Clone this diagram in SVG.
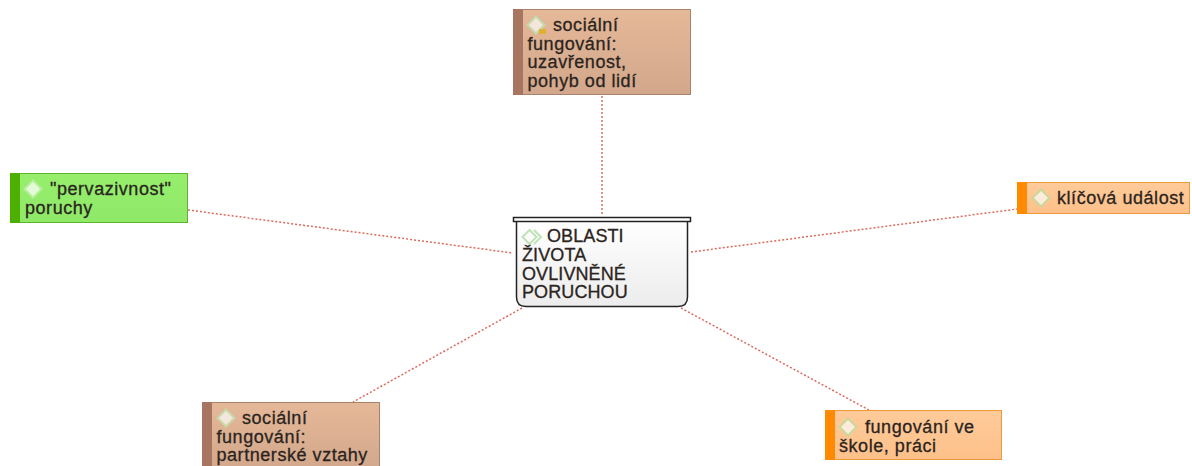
<svg xmlns="http://www.w3.org/2000/svg" width="1192" height="466" viewBox="0 0 1192 466">
<defs>
<linearGradient id="gb" x1="0" y1="0" x2="0" y2="1"><stop offset="0" stop-color="#e5b898"/><stop offset="1" stop-color="#d2a78b"/></linearGradient>
<linearGradient id="gg" x1="0" y1="0" x2="0" y2="1"><stop offset="0" stop-color="#96ee6c"/><stop offset="1" stop-color="#8fe868"/></linearGradient>
<linearGradient id="go" x1="0" y1="0" x2="0" y2="1"><stop offset="0" stop-color="#ffcb9a"/><stop offset="1" stop-color="#fdc08a"/></linearGradient>
<linearGradient id="gw" x1="0" y1="0" x2="0" y2="1"><stop offset="0" stop-color="#ffffff"/><stop offset="1" stop-color="#ececec"/></linearGradient>
<path id="dia" d="M0 -8.500 L8.500 0 L0 8.500 L-8.500 0 Z"/>
</defs>
<style>
text{font-family:"Liberation Sans",Arial,sans-serif;font-size:18px;letter-spacing:.55px;fill:#2a2420;stroke:#2a2420;stroke-width:.3px}
.u{letter-spacing:.1px}
.c{fill:none;stroke:#dd6a5c;stroke-width:1.5;stroke-dasharray:2 2}
.d{stroke-width:2}
.db{fill:#f3e6dc;stroke:#c5d8a8}
.dg{fill:#e4fbd8;stroke:#b8ee9c}
.do{fill:#fdebdc;stroke:#c8d89a}
.bb{fill:url(#gb);stroke:#a8826c}
.bg{fill:url(#gg);stroke:#5cb52c}
.bo{fill:url(#go);stroke:#ef9a38}
.sb{fill:#a87560}.sg{fill:#4db000}.so{fill:#ff8a00}
</style>
<g id="connectors">
<line class="c" x1="602" y1="96" x2="602" y2="214"/>
<line class="c" x1="188" y1="210" x2="513" y2="253"/>
<line class="c" x1="691" y1="252" x2="1017" y2="209"/>
<line class="c" x1="522" y1="308" x2="353" y2="402"/>
<line class="c" x1="681" y1="308" x2="869" y2="410"/>
</g>
<g id="node-top">
<rect class="bb" x="513.500" y="9.500" width="177" height="85"/><rect class="sb" x="513" y="9" width="10" height="86"/>
<use href="#dia" class="d db" x="536" y="25"/><rect x="539" y="29" width="7" height="5" rx="1" fill="#e0b030"/>
<text x="553" y="31">sociální</text><text x="527.500" y="49.500">fungování:</text><text x="527.500" y="68">uzavřenost,</text><text x="527.500" y="86.500">pohyb od lidí</text>
</g>
<g id="node-center">
<path d="M516.500 221 V297 Q516.500 306.500 526 306.500 H678 Q687.500 306.500 687.500 297 V221 Z" fill="url(#gw)" stroke="#222" stroke-width="1.500"/>
<rect x="513.500" y="217.500" width="177" height="4" fill="#fff" stroke="#222" stroke-width="1.500"/>
<g fill="none" stroke="#bfe3b4" stroke-width="2"><path d="M529.500 230 L522.500 237 L529.500 244 L536.500 237 Z"/><path d="M534 230 L541 237 L534 244"/></g>
<text class="u" x="547" y="242">OBLASTI</text><text class="u" x="522" y="261">ŽIVOTA</text><text class="u" x="522" y="279.500">OVLIVNĚNÉ</text><text class="u" x="522" y="298">PORUCHOU</text>
</g>
<g id="node-left">
<rect class="bg" x="10.500" y="173.500" width="177" height="49"/><rect class="sg" x="10" y="173" width="10" height="50"/>
<use href="#dia" class="d dg" x="33" y="189"/>
<text x="50" y="195">"pervazivnost"</text><text x="25" y="213.500">poruchy</text>
</g>
<g id="node-right">
<rect class="bo" x="1017.500" y="182.500" width="172" height="31"/><rect class="so" x="1017" y="182" width="10" height="32"/>
<use href="#dia" class="d do" x="1041" y="198"/>
<text x="1057" y="204">klíčová událost</text>
</g>
<g id="node-bottom-left">
<rect class="bb" x="202.500" y="402.500" width="177" height="68"/><rect class="sb" x="202" y="402" width="10" height="64"/>
<use href="#dia" class="d db" x="226" y="418"/>
<text x="242" y="424">sociální</text><text x="216.500" y="442.500">fungování:</text><text x="216.500" y="461">partnerské vztahy</text>
</g>
<g id="node-bottom-right">
<rect class="bo" x="825.500" y="410.500" width="176" height="49"/><rect class="so" x="825" y="410" width="10" height="50"/>
<use href="#dia" class="d do" x="848" y="427"/>
<text x="865" y="433">fungování ve</text><text x="839" y="451.500">škole, práci</text>
</g>
</svg>
